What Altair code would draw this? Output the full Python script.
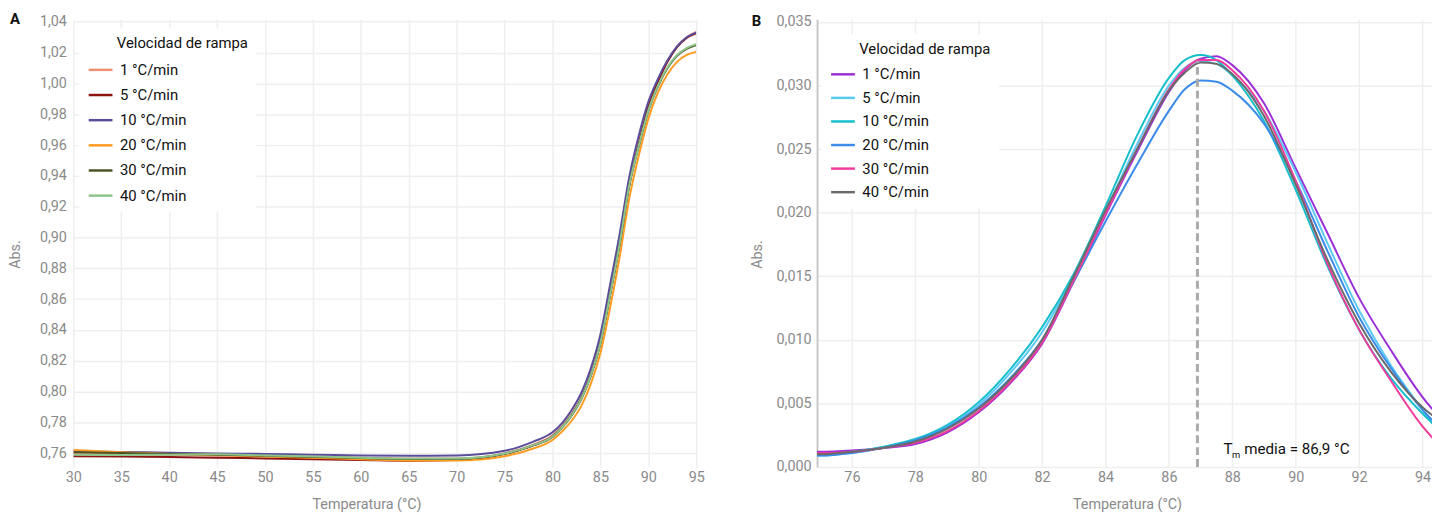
import altair as alt
import pandas as pd

# ---------------- Panel A data ----------------
temp_a = [30, 35, 40, 45, 50, 55, 60, 65, 70, 75, 78, 80, 81, 82, 83, 84, 85, 86, 87, 88, 89, 90, 91, 92, 93, 94, 95]
abs_a_1 = [0.7600, 0.7595, 0.7590, 0.7585, 0.7580, 0.7575, 0.7570, 0.7565, 0.7565, 0.7600, 0.7655, 0.7715, 0.7775, 0.7855, 0.7960, 0.8115, 0.8325, 0.8635, 0.8965, 0.9345, 0.9615, 0.9855, 1.0015, 1.0145, 1.0240, 1.0300, 1.0335]
abs_a_5 = [0.7580, 0.7578, 0.7575, 0.7570, 0.7565, 0.7560, 0.7555, 0.7550, 0.7555, 0.7595, 0.7650, 0.7710, 0.7770, 0.7850, 0.7955, 0.8110, 0.8320, 0.8630, 0.8960, 0.9340, 0.9610, 0.9850, 1.0010, 1.0140, 1.0235, 1.0295, 1.0325]
abs_a_10 = [0.7612, 0.7608, 0.7602, 0.7598, 0.7595, 0.7590, 0.7585, 0.7583, 0.7585, 0.7615, 0.7675, 0.7735, 0.7795, 0.7880, 0.7990, 0.8150, 0.8370, 0.8690, 0.9020, 0.9390, 0.9660, 0.9880, 1.0030, 1.0150, 1.0240, 1.0300, 1.0330]
abs_a_20 = [0.7620, 0.7605, 0.7595, 0.7588, 0.7578, 0.7570, 0.7560, 0.7552, 0.7552, 0.7580, 0.7630, 0.7685, 0.7740, 0.7810, 0.7905, 0.8050, 0.8250, 0.8540, 0.8870, 0.9250, 0.9530, 0.9770, 0.9940, 1.0060, 1.0140, 1.0185, 1.0205]
abs_a_30 = [0.7605, 0.7600, 0.7595, 0.7590, 0.7583, 0.7575, 0.7568, 0.7562, 0.7562, 0.7595, 0.7650, 0.7705, 0.7765, 0.7845, 0.7950, 0.8100, 0.8310, 0.8620, 0.8950, 0.9330, 0.9590, 0.9820, 0.9980, 1.0100, 1.0180, 1.0225, 1.0250]
abs_a_40 = [0.7590, 0.7588, 0.7590, 0.7592, 0.7585, 0.7578, 0.7570, 0.7565, 0.7565, 0.7597, 0.7652, 0.7708, 0.7768, 0.7848, 0.7952, 0.8105, 0.8315, 0.8625, 0.8955, 0.9335, 0.9595, 0.9825, 0.9985, 1.0105, 1.0185, 1.0230, 1.0255]
series_names = ["1 °C/min", "5 °C/min", "10 °C/min", "20 °C/min", "30 °C/min", "40 °C/min"]
colors_a = ["#EE8F73", "#8E1414", "#5A4E9C", "#FF9B21", "#4B5424", "#8CC48A"]
ticks_x_a = [30, 35, 40, 45, 50, 55, 60, 65, 70, 75, 80, 85, 90, 95]
ticks_y_a = [0.76, 0.78, 0.80, 0.82, 0.84, 0.86, 0.88, 0.90, 0.92, 0.94, 0.96, 0.98, 1.00, 1.02, 1.04]

# ---------------- Panel B data ----------------
temp_b = [74.9, 75, 76, 77, 78, 79, 80, 81, 82, 83, 84, 85, 86, 86.5, 87, 87.5, 88, 89, 90, 91, 92, 93, 94, 94.5]
abs_b_1 = [0.0012, 0.0012, 0.0013, 0.0015, 0.0018, 0.0027, 0.0043, 0.0066, 0.0097, 0.0146, 0.0198, 0.0248, 0.0295, 0.0312, 0.0321, 0.0323, 0.0316, 0.0286, 0.0235, 0.0184, 0.0133, 0.0092, 0.0055, 0.0040]
abs_b_5 = [0.0009, 0.0009, 0.0011, 0.0015, 0.0021, 0.0032, 0.0049, 0.0074, 0.0106, 0.0150, 0.0201, 0.0254, 0.0300, 0.0314, 0.0319, 0.0317, 0.0308, 0.0280, 0.0232, 0.0176, 0.0123, 0.0080, 0.0045, 0.0028]
abs_b_10 = [0.0010, 0.0010, 0.0012, 0.0016, 0.0022, 0.0033, 0.0051, 0.0077, 0.0110, 0.0152, 0.0205, 0.0261, 0.0306, 0.0320, 0.0324, 0.0320, 0.0308, 0.0272, 0.0218, 0.0158, 0.0108, 0.0070, 0.0042, 0.0030]
abs_b_20 = [0.0009, 0.0009, 0.0011, 0.0015, 0.0021, 0.0031, 0.0047, 0.0070, 0.0100, 0.0146, 0.0193, 0.0238, 0.0280, 0.0297, 0.0304, 0.0303, 0.0296, 0.0270, 0.0225, 0.0170, 0.0118, 0.0078, 0.0045, 0.0032]
abs_b_30 = [0.0011, 0.0011, 0.0012, 0.0015, 0.0019, 0.0028, 0.0044, 0.0067, 0.0098, 0.0147, 0.0199, 0.0250, 0.0297, 0.0313, 0.0320, 0.0320, 0.0312, 0.0280, 0.0225, 0.0160, 0.0108, 0.0068, 0.0032, 0.0018]
abs_b_40 = [0.0010, 0.0010, 0.0012, 0.0015, 0.0020, 0.0030, 0.0046, 0.0069, 0.0100, 0.0150, 0.0202, 0.0250, 0.0296, 0.0310, 0.0318, 0.0317, 0.0309, 0.0276, 0.0222, 0.0163, 0.0113, 0.0075, 0.0047, 0.0037]
colors_b = ["#9B2FD8", "#5BC9F6", "#16BFCB", "#3A8BEA", "#F23C9C", "#6A6A6A"]
ticks_x_b = [76, 78, 80, 82, 84, 86, 88, 90, 92, 94]
ticks_y_b = [0.000, 0.005, 0.010, 0.015, 0.020, 0.025, 0.030, 0.035]
tm_value = 86.9
tm_top = 0.0319

FONT = "Roboto"
AX_COLOR = "#8a8a8a"
GRID = "#efefef"
# leading blank cells indent the legend title past the line symbols
LEGEND_TITLE = "\u2800\u2800\u2002Velocidad de rampa"


def long_df(temps, arrays, names):
    rows = []
    for name, arr in zip(names, arrays):
        for t, v in zip(temps, arr):
            rows.append({"T": t, "v": v, "serie": name})
    return pd.DataFrame(rows)


df_a = long_df(temp_a, [abs_a_1, abs_a_5, abs_a_10, abs_a_20, abs_a_30, abs_a_40], series_names)
df_b = long_df(temp_b, [abs_b_1, abs_b_5, abs_b_10, abs_b_20, abs_b_30, abs_b_40], series_names)


def legend(x, y, rowpad, titlepad):
    return alt.Legend(
        title=LEGEND_TITLE, orient="none", legendX=x, legendY=y,
        fillColor="white", padding=8, symbolType="stroke", symbolSize=576,
        symbolStrokeWidth=2.5, labelFontSize=15, titleFontSize=15,
        titleFontWeight="normal", titleColor="#111111", labelColor="#111111",
        labelFont=FONT, titleFont=FONT, rowPadding=rowpad, titlePadding=titlepad,
        labelOffset=6,
    )


# ---------------- Panel A chart ----------------
xa = alt.X("T:Q", scale=alt.Scale(domain=[30, 95], nice=False, zero=False),
           axis=alt.Axis(values=ticks_x_a, title="Temperatura (°C)", ticks=False, domain=False,
                         labelFlush=False, labelPadding=4, titlePadding=13, titleX=296, grid=True))
ya = alt.Y("v:Q", scale=alt.Scale(domain=[0.751, 1.0416], nice=False, zero=False),
           axis=alt.Axis(values=ticks_y_a, title="Abs.", ticks=False, domain=False,
                         labelExpr="replace(format(datum.value, '.2f'), '.', ',')",
                         labelPadding=7, titleX=-58, titleY=237, titleBaseline="middle"))
lines_a = alt.Chart(df_a).mark_line(strokeWidth=2, interpolate="monotone", clip=True).encode(
    x=xa, y=ya,
    color=alt.Color("serie:N", sort=series_names,
                    scale=alt.Scale(domain=series_names, range=colors_a),
                    legend=legend(6, 9, 3.4, 5.5)),
)
label_a = alt.Chart(pd.DataFrame({"t": ["A"]})).mark_text(
    align="left", baseline="middle", fontSize=15, fontWeight="bold", font=FONT, color="#111111"
).encode(text="t:N", x=alt.value(-64), y=alt.value(0))
chart_a = alt.layer(lines_a, label_a).properties(width=629, height=452)

# ---------------- Panel B chart ----------------
xb = alt.X("T:Q", scale=alt.Scale(domain=[74.9, 94.3], nice=False, zero=False),
           axis=alt.Axis(values=ticks_x_b, title="Temperatura (°C)", ticks=False, domain=False,
                         labelFlush=False, labelPadding=4, titlePadding=13, titleX=313, grid=True))
yb = alt.Y("v:Q", scale=alt.Scale(domain=[0, 0.0352], nice=False, zero=False),
           axis=alt.Axis(values=ticks_y_b, title="Abs.", ticks=False, domain=True,
                         domainColor="#c8c8c8", domainWidth=2,
                         labelExpr="replace(format(datum.value, '.3f'), '.', ',')",
                         labelPadding=6, titleX=-60, titleY=237, titleBaseline="middle"))
lines_b = alt.Chart(df_b).mark_line(strokeWidth=2, interpolate="monotone", clip=True).encode(
    x=xb, y=yb,
    color=alt.Color("serie:N", sort=series_names,
                    scale=alt.Scale(domain=series_names, range=colors_b),
                    legend=legend(4.7, 15, 1.8, 4.0)),
)
tm_df = pd.DataFrame({"T": [tm_value], "y0": [0.0], "y1": [tm_top]})
tm_rule = alt.Chart(tm_df).mark_rule(strokeDash=[8, 4], strokeWidth=3, color="#ababab").encode(
    x="T:Q", y="y0:Q", y2="y1:Q")
ann_df = pd.DataFrame({"T": [87.72], "y": [0.001]})
ann_t = alt.Chart(ann_df).mark_text(align="left", baseline="alphabetic", fontSize=15.3, font=FONT,
                                     color="#111111").encode(x="T:Q", y="y:Q", text=alt.value("T"))
ann_m = alt.Chart(ann_df).mark_text(align="left", baseline="alphabetic", fontSize=9.5, font=FONT,
                                     color="#111111", dx=8.7, dy=4).encode(x="T:Q", y="y:Q", text=alt.value("m"))
ann_rest = alt.Chart(ann_df).mark_text(align="left", baseline="alphabetic", fontSize=15.3, font=FONT,
                                        color="#111111", dx=21).encode(
    x="T:Q", y="y:Q", text=alt.value("media = 86,9 °C"))
label_b = alt.Chart(pd.DataFrame({"t": ["B"]})).mark_text(
    align="left", baseline="middle", fontSize=15, fontWeight="bold", font=FONT, color="#111111"
).encode(text="t:N", x=alt.value(-66), y=alt.value(2))
chart_b = alt.layer(lines_b, tm_rule, ann_t, ann_m, ann_rest, label_b).properties(width=621, height=452)

chart = alt.hconcat(chart_a, chart_b, spacing=45).resolve_scale(color="independent").properties(
    padding={"left": 0, "top": 2, "right": 0, "bottom": 0}
).configure(font=FONT).configure_view(stroke=None).configure_axis(
    labelColor=AX_COLOR, titleColor=AX_COLOR, labelFontSize=14.5, titleFontSize=14.5,
    titleFontWeight="normal", gridColor=GRID, gridWidth=1.5, labelFont=FONT, titleFont=FONT,
)

chart.save("out.html", embed_options={"renderer": "svg", "actions": False})
